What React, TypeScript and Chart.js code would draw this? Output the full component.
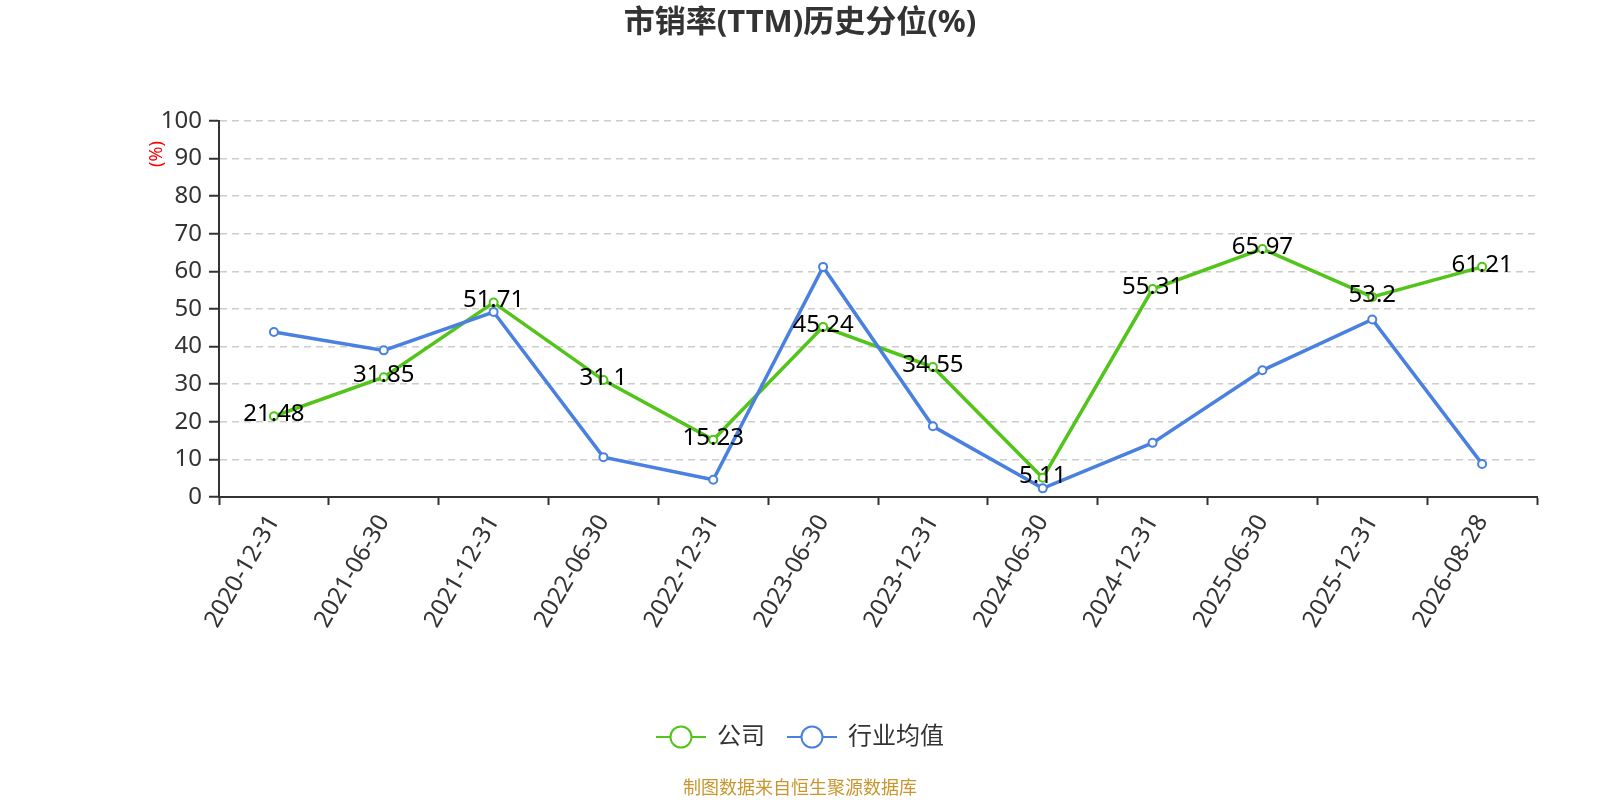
import { useEffect, useRef } from "react";
import { Chart, registerables } from "chart.js";
Chart.register(...registerables);

const FONT = '"Noto Sans", "Noto Sans CJK SC", sans-serif';

const titleText = "市销率(TTM)历史分位(%)";
const footerText = "制图数据来自恒生聚源数据库";
const unitText = "(%)";
const seriesNames = ["公司", "行业均值"];
const seriesColors = ["#52c41a", "#4a80e0"];

const dates = [
  "2020-12-31",
  "2021-06-30",
  "2021-12-31",
  "2022-06-30",
  "2022-12-31",
  "2023-06-30",
  "2023-12-31",
  "2024-06-30",
  "2024-12-31",
  "2025-06-30",
  "2025-12-31",
  "2026-08-28",
];
const companyValues = [21.48, 31.85, 51.71, 31.1, 15.23, 45.24, 34.55, 5.11, 55.31, 65.97, 53.2, 61.21];
const industryValues = [43.9, 39.0, 49.2, 10.6, 4.6, 61.2, 18.8, 2.3, 14.4, 33.7, 47.2, 8.8];

const overlay = {
  id: "overlay",
  afterDatasetsDraw(chart: any) {
    const ctx = chart.ctx;
    const meta = chart.getDatasetMeta(0);
    ctx.save();
    ctx.font = `24px ${FONT}`;
    ctx.fillStyle = "#000";
    ctx.textAlign = "center";
    ctx.textBaseline = "middle";
    meta.data.forEach((pt: any, i: number) => {
      ctx.fillText(String(companyValues[i]), pt.x, pt.y - 2);
    });
    ctx.restore();
  },
  afterDraw(chart: any) {
    const ctx = chart.ctx;
    const cx = chart.width / 2;
    ctx.save();

    // title
    ctx.font = `bold 31px ${FONT}`;
    ctx.fillStyle = "#333";
    ctx.textAlign = "center";
    ctx.textBaseline = "middle";
    ctx.fillText(titleText, cx, 23);

    // unit label
    ctx.save();
    ctx.translate(157, 154);
    ctx.rotate(-Math.PI / 2);
    ctx.font = `18px ${FONT}`;
    ctx.fillStyle = "#ff0000";
    ctx.fillText(unitText, 0, 0);
    ctx.restore();

    // legend
    ctx.font = `24px ${FONT}`;
    const lineW = 50;
    const gapText = 11;
    const gapItem = 22;
    const widths = seriesNames.map((n) => lineW + gapText + ctx.measureText(n).width);
    const total = widths.reduce((a, b) => a + b, 0) + gapItem * (seriesNames.length - 1);
    let x = cx - total / 2;
    const ly = 737;
    seriesNames.forEach((name, i) => {
      ctx.strokeStyle = seriesColors[i];
      ctx.lineWidth = 2;
      ctx.beginPath();
      ctx.moveTo(x, ly);
      ctx.lineTo(x + lineW, ly);
      ctx.stroke();
      ctx.beginPath();
      ctx.arc(x + lineW / 2, ly, 10.5, 0, Math.PI * 2);
      ctx.fillStyle = "#fff";
      ctx.fill();
      ctx.stroke();
      ctx.fillStyle = "#333";
      ctx.textAlign = "left";
      ctx.fillText(name, x + lineW + gapText, ly);
      x += widths[i] + gapItem;
    });

    // footer
    ctx.font = `18px ${FONT}`;
    ctx.fillStyle = "#c8962d";
    ctx.textAlign = "center";
    ctx.fillText(footerText, cx, 789);
    ctx.restore();
  },
};

const App = () => {
  const chartRef = useRef<HTMLCanvasElement | null>(null);

  useEffect(() => {
    document.body.style.margin = "0";
    if (!chartRef.current) return;
    const ctx = chartRef.current.getContext("2d");
    if (!ctx) return;

    const chart = new Chart(ctx, {
      type: "line",
      data: {
        labels: dates,
        datasets: [
          {
            label: seriesNames[0],
            data: companyValues,
            borderColor: seriesColors[0],
            backgroundColor: "#fff",
            borderWidth: 3.5,
            pointRadius: 4,
            pointBorderWidth: 2,
            pointBackgroundColor: "#fff",
            pointBorderColor: seriesColors[0],
            tension: 0,
            order: 1,
          },
          {
            label: seriesNames[1],
            data: industryValues,
            borderColor: seriesColors[1],
            backgroundColor: "#fff",
            borderWidth: 3.5,
            pointRadius: 4,
            pointBorderWidth: 2,
            pointBackgroundColor: "#fff",
            pointBorderColor: seriesColors[1],
            tension: 0,
            order: 0,
          },
        ],
      },
      options: {
        animation: false,
        responsive: true,
        maintainAspectRatio: false,
        layout: { padding: { top: 121, left: 0, right: 63, bottom: 163 } },
        plugins: {
          legend: { display: false },
          title: { display: false },
          tooltip: { enabled: false },
        },
        scales: {
          x: {
            offset: true,
            grid: {
              display: true,
              drawOnChartArea: false,
              offset: true,
              tickLength: 8,
              tickColor: "#333",
              tickWidth: 2,
            },
            border: { color: "#333", width: 2 },
            ticks: {
              color: "#333",
              font: { size: 24, family: FONT },
              minRotation: 60,
              maxRotation: 60,
              autoSkip: false,
              padding: 5,
            },
            afterFit: (s: any) => {
              s.height = 140;
            },
          },
          y: {
            min: 0,
            max: 100,
            ticks: {
              stepSize: 10,
              color: "#333",
              font: { size: 24, family: FONT },
              padding: 7,
            },
            grid: {
              color: (c: any) => (c.tick && c.tick.value === 0 ? "rgba(0,0,0,0)" : "#cccccc"),
              lineWidth: 1.5,
              tickColor: "#333",
              tickWidth: 2,
              tickLength: 10,
            },
            border: { color: "#333", width: 2, dash: [7, 5] },
            afterFit: (s: any) => {
              s.width = 219;
            },
          },
        },
      },
      plugins: [overlay],
    });

    return () => chart.destroy();
  }, []);

  return (
    <div style={{ position: "relative", width: "1600px", height: "800px" }}>
      <canvas ref={chartRef}></canvas>
    </div>
  );
};

export default App;
